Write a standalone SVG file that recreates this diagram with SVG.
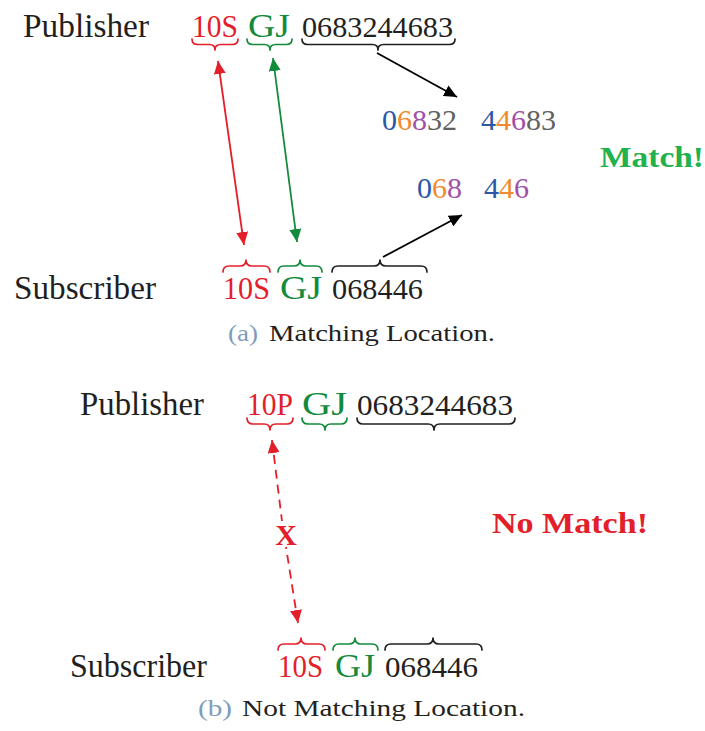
<svg xmlns="http://www.w3.org/2000/svg" width="705" height="731" viewBox="0 0 705 731">
  <style>
    text { font-family: "Liberation Serif", "Times New Roman", serif; font-size: 30px; fill: #231f20; }
    .lbl { font-size: 33px; }
    .code { font-size: 31px; }
    .gj { font-size: 33px; }
    .cap { font-size: 23px; }
    .capn { font-size: 23px; fill: #7f9db9; }
    .red { fill: #e3202a; }
    .grn { fill: #138a3c; }
    .blu { fill: #2a57a8; }
    .org { fill: #f08a2c; }
    .pur { fill: #a050a8; }
    .gry { fill: #5f6362; }
    .bold { font-weight: bold; }
    .match { fill: #22b14c; }
    .brace { fill: none; stroke-width: 1.7; stroke-linejoin: round; stroke-linecap: round; }
    .b-red { stroke: #e3202a; }
    .b-grn { stroke: #138a3c; }
    .b-blk { stroke: #231f20; }
    .arrow { fill: none; stroke-width: 1.8; }
  </style>
  <defs>
    <marker id="ah-red" markerUnits="userSpaceOnUse" markerWidth="14" markerHeight="12" refX="13" refY="6" orient="auto-start-reverse">
      <path d="M0,0 L13,6 L0,12 Z" fill="#e3202a"/>
    </marker>
    <marker id="ah-grn" markerUnits="userSpaceOnUse" markerWidth="14" markerHeight="12" refX="13" refY="6" orient="auto-start-reverse">
      <path d="M0,0 L13,6 L0,12 Z" fill="#138a3c"/>
    </marker>
    <marker id="ah-blk" markerUnits="userSpaceOnUse" markerWidth="14" markerHeight="12" refX="13" refY="6" orient="auto">
      <path d="M0,0 L13,6 L0,12 Z" fill="#000"/>
    </marker>
  </defs>

  <!-- (a) Matching location -->
  <g id="a-publisher">
    <text class="lbl" x="23" y="37" textLength="126" lengthAdjust="spacingAndGlyphs">Publisher</text>
    <text class="code red" x="192" y="37" textLength="46" lengthAdjust="spacingAndGlyphs">10S</text>
    <text class="gj grn" x="248" y="37" textLength="42" lengthAdjust="spacingAndGlyphs">GJ</text>
    <text x="302" y="37" textLength="151" lengthAdjust="spacingAndGlyphs">0683244683</text>
    <path class="brace b-red" d="M192,39 Q192,44.5 197.5,44.5 L209.5,44.5 Q215,44.5 215,50 Q215,44.5 220.5,44.5 L232.5,44.5 Q238,44.5 238,39"/>
    <path class="brace b-grn" d="M247,39 Q247,44.5 252.5,44.5 L264.5,44.5 Q270,44.5 270,50 Q270,44.5 275.5,44.5 L286.5,44.5 Q292,44.5 292,39"/>
    <path class="brace b-blk" d="M302,39 Q302,44.5 307.5,44.5 L372.5,44.5 Q378,44.5 378,50 Q378,44.5 383.5,44.5 L449.5,44.5 Q455,44.5 455,39"/>
  </g>

  <g id="a-split-pub">
    <text x="382" y="130"><tspan class="blu">0</tspan><tspan class="org">6</tspan><tspan class="pur">8</tspan><tspan class="gry">32</tspan></text>
    <text x="481" y="130"><tspan class="blu">4</tspan><tspan class="org">4</tspan><tspan class="pur">6</tspan><tspan class="gry">83</tspan></text>
  </g>

  <g id="a-split-sub">
    <text x="417" y="198"><tspan class="blu">0</tspan><tspan class="org">6</tspan><tspan class="pur">8</tspan></text>
    <text x="484" y="198"><tspan class="blu">4</tspan><tspan class="org">4</tspan><tspan class="pur">6</tspan></text>
  </g>

  <g id="a-result">
    <text class="bold match" x="600" y="167" textLength="104" lengthAdjust="spacingAndGlyphs">Match!</text>
  </g>

  <g id="a-subscriber">
    <text class="lbl" x="14" y="299" textLength="142" lengthAdjust="spacingAndGlyphs">Subscriber</text>
    <path class="brace b-red" d="M223,272 Q223,266 229,266 L240,266 Q246,266 246,260 Q246,266 252,266 L264,266 Q270,266 270,272"/>
    <path class="brace b-grn" d="M278,272 Q278,266 284,266 L294,266 Q300,266 300,260 Q300,266 306,266 L316,266 Q322,266 322,272"/>
    <path class="brace b-blk" d="M332,272 Q332,266 338,266 L374,266 Q380,266 380,260 Q380,266 386,266 L421,266 Q427,266 427,272"/>
    <text class="code red" x="223" y="299" textLength="47" lengthAdjust="spacingAndGlyphs">10S</text>
    <text class="gj grn" x="280" y="299" textLength="42" lengthAdjust="spacingAndGlyphs">GJ</text>
    <text x="332" y="299" textLength="91" lengthAdjust="spacingAndGlyphs">068446</text>
  </g>

  <g id="a-caption">
    <text class="capn" x="228" y="341" textLength="30" lengthAdjust="spacingAndGlyphs">(a)</text>
    <text class="cap" x="269" y="341" textLength="226" lengthAdjust="spacingAndGlyphs">Matching Location.</text>
  </g>

  <!-- (b) Not matching location -->
  <g id="b-publisher">
    <text class="lbl" x="80" y="415" textLength="124" lengthAdjust="spacingAndGlyphs">Publisher</text>
    <text class="code red" x="247" y="415" textLength="46" lengthAdjust="spacingAndGlyphs">10P</text>
    <text class="gj grn" x="302" y="415" textLength="45" lengthAdjust="spacingAndGlyphs">GJ</text>
    <text x="357" y="415" textLength="156" lengthAdjust="spacingAndGlyphs">0683244683</text>
    <path class="brace b-red" d="M247,418 Q247,424 253,424 L264,424 Q270,424 270,430 Q270,424 276,424 L287,424 Q293,424 293,418"/>
    <path class="brace b-grn" d="M302,418 Q302,424 308,424 L319,424 Q325,424 325,430 Q325,424 331,424 L341,424 Q347,424 347,418"/>
    <path class="brace b-blk" d="M357,418 Q357,424 363,424 L428,424 Q434,424 434,430 Q434,424 440,424 L509,424 Q515,424 515,418"/>
  </g>

  <g id="b-result">
    <text class="bold red" x="492" y="533" textLength="156" lengthAdjust="spacingAndGlyphs">No Match!</text>
  </g>

  <g id="b-subscriber">
    <text class="lbl" x="70" y="677" textLength="137" lengthAdjust="spacingAndGlyphs">Subscriber</text>
    <path class="brace b-red" d="M278,650 Q278,644 284,644 L295,644 Q301,644 301,638 Q301,644 307,644 L319,644 Q325,644 325,650"/>
    <path class="brace b-grn" d="M333,650 Q333,644 339,644 L349,644 Q355,644 355,638 Q355,644 361,644 L372,644 Q378,644 378,650"/>
    <path class="brace b-blk" d="M385,650 Q385,644 391,644 L427,644 Q433,644 433,638 Q433,644 439,644 L476,644 Q482,644 482,650"/>
    <text class="code red" x="278" y="677" textLength="45" lengthAdjust="spacingAndGlyphs">10S</text>
    <text class="gj grn" x="335" y="677" textLength="40" lengthAdjust="spacingAndGlyphs">GJ</text>
    <text x="385" y="677" textLength="93" lengthAdjust="spacingAndGlyphs">068446</text>
  </g>

  <g id="b-caption">
    <text class="capn" x="198" y="716" textLength="34" lengthAdjust="spacingAndGlyphs">(b)</text>
    <text class="cap" x="242" y="716" textLength="283" lengthAdjust="spacingAndGlyphs">Not Matching Location.</text>
  </g>

  <!-- connectors -->
  <g id="connectors">
    <line class="arrow" x1="218" y1="61" x2="244" y2="245" stroke="#e3202a" marker-start="url(#ah-red)" marker-end="url(#ah-red)"/>
    <line class="arrow" x1="273" y1="58" x2="297" y2="242" stroke="#138a3c" marker-start="url(#ah-grn)" marker-end="url(#ah-grn)"/>
    <line class="arrow" x1="377" y1="53" x2="457" y2="97" stroke="#000" marker-end="url(#ah-blk)"/>
    <line class="arrow" x1="383" y1="257" x2="462" y2="215" stroke="#000" marker-end="url(#ah-blk)"/>
    <line class="arrow" x1="272" y1="440" x2="282" y2="521" stroke="#e3202a" stroke-dasharray="9 6" marker-start="url(#ah-red)"/>
    <line class="arrow" x1="298" y1="623" x2="286" y2="547" stroke="#e3202a" stroke-dasharray="9 6" marker-start="url(#ah-red)"/>
    <text class="bold red" x="286" y="545" text-anchor="middle" font-size="31">X</text>
  </g>
</svg>
